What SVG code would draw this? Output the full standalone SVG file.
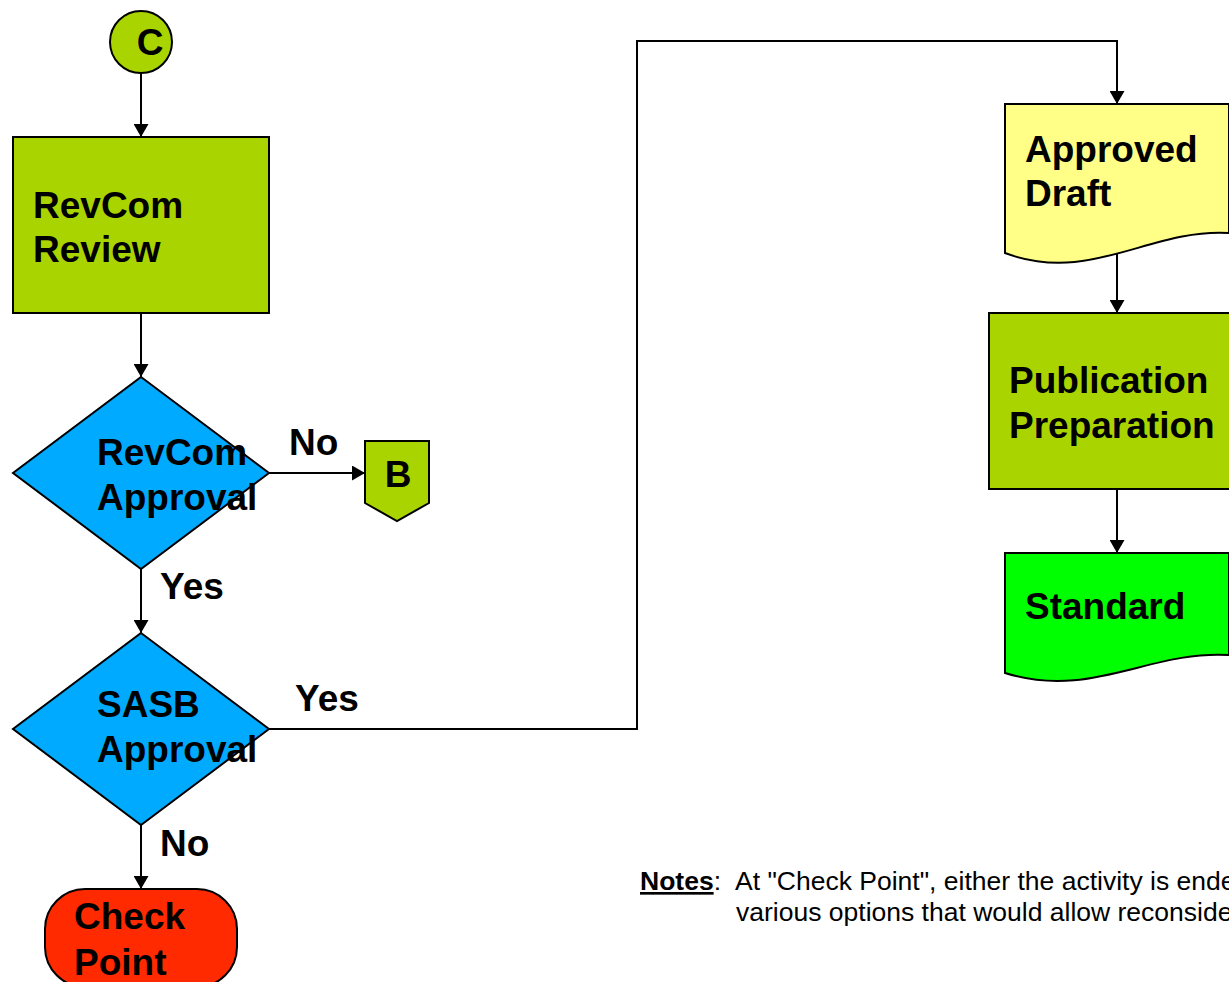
<svg xmlns="http://www.w3.org/2000/svg" width="1229" height="982" viewBox="0 0 1229 982">
<style>
.s{stroke:#000;stroke-width:2}
.lbl{font-family:"Liberation Sans",Arial,sans-serif;font-weight:bold;font-size:37px;fill:#000}
.ln{fill:none;stroke:#000;stroke-width:2}
.note{font-family:"Liberation Sans",Arial,sans-serif;font-size:26.5px;fill:#000}
</style>
<defs>
<marker id="ah" viewBox="0 0 13 15" refX="13" refY="7.5" markerWidth="13" markerHeight="15" markerUnits="userSpaceOnUse" orient="auto">
<path d="M0,0 L13,7.5 L0,15 Z" fill="#000"/>
</marker>
</defs>
<rect width="1229" height="982" fill="#fff"/>
<g id="connectors">
<line class="ln" x1="141" y1="73" x2="141" y2="137" marker-end="url(#ah)"/>
<line class="ln" x1="141" y1="313" x2="141" y2="377" marker-end="url(#ah)"/>
<line class="ln" x1="269" y1="473" x2="365" y2="473" marker-end="url(#ah)"/>
<line class="ln" x1="141" y1="569" x2="141" y2="633" marker-end="url(#ah)"/>
<line class="ln" x1="141" y1="825" x2="141" y2="889" marker-end="url(#ah)"/>
<polyline class="ln" points="269,729 637,729 637,41 1117,41 1117,104" marker-end="url(#ah)"/>
<line class="ln" x1="1117" y1="254" x2="1117" y2="313" marker-end="url(#ah)"/>
<line class="ln" x1="1117" y1="489" x2="1117" y2="553" marker-end="url(#ah)"/>
<text class="lbl" x="289" y="455">No</text>
<text class="lbl" x="160" y="599">Yes</text>
<text class="lbl" x="295" y="711">Yes</text>
<text class="lbl" x="160" y="856">No</text>
</g>
<g id="nodeC">
<circle class="s" cx="141" cy="42" r="31" fill="#aad400"/>
<text class="lbl" x="150" y="55" text-anchor="middle">C</text>
</g>
<g id="revcomReview">
<rect class="s" x="13" y="137" width="256" height="176" fill="#aad400"/>
<text class="lbl" x="33" y="218">RevCom</text>
<text class="lbl" x="33" y="262">Review</text>
</g>
<g id="revcomApproval">
<polygon class="s" points="141,377 269,473 141,569 13,473" fill="#00aaff"/>
<text class="lbl" x="97" y="465">RevCom</text>
<text class="lbl" x="97" y="510">Approval</text>
</g>
<g id="nodeB">
<polygon class="s" points="365,441 429,441 429,503 397,521 365,503" fill="#aad400"/>
<text class="lbl" x="398" y="487" text-anchor="middle">B</text>
</g>
<g id="sasbApproval">
<polygon class="s" points="141,633 269,729 141,825 13,729" fill="#00aaff"/>
<text class="lbl" x="97" y="717">SASB</text>
<text class="lbl" x="97" y="762">Approval</text>
</g>
<g id="checkPoint">
<rect class="s" x="45" y="889" width="192" height="98" rx="40" ry="40" fill="#ff2a00"/>
<text class="lbl" x="74" y="929">Check</text>
<text class="lbl" x="74" y="975">Point</text>
</g>
<g id="approvedDraft">
<path class="s" d="M1005,104 H1229 V233 C1150,228 1090,285 1005,253 Z" fill="#ffff88"/>
<text class="lbl" x="1025" y="162">Approved</text>
<text class="lbl" x="1025" y="206">Draft</text>
</g>
<g id="publicationPreparation">
<rect class="s" x="989" y="313" width="256" height="176" fill="#aad400"/>
<text class="lbl" x="1009" y="393">Publication</text>
<text class="lbl" x="1009" y="438">Preparation</text>
</g>
<g id="standard">
<path class="s" d="M1005,553 H1229 V655 C1150,650 1090,700 1005,673 Z" fill="#00ff00"/>
<text class="lbl" x="1025" y="619">Standard</text>
</g>
<g id="notes">
<text class="note" x="640" y="890"><tspan font-weight="bold" text-decoration="underline">Notes</tspan>:<tspan x="735">At "Check Point", either the activity is ende</tspan></text>
<text class="note" x="736" y="921">various options that would allow reconside</text>
</g>
</svg>
